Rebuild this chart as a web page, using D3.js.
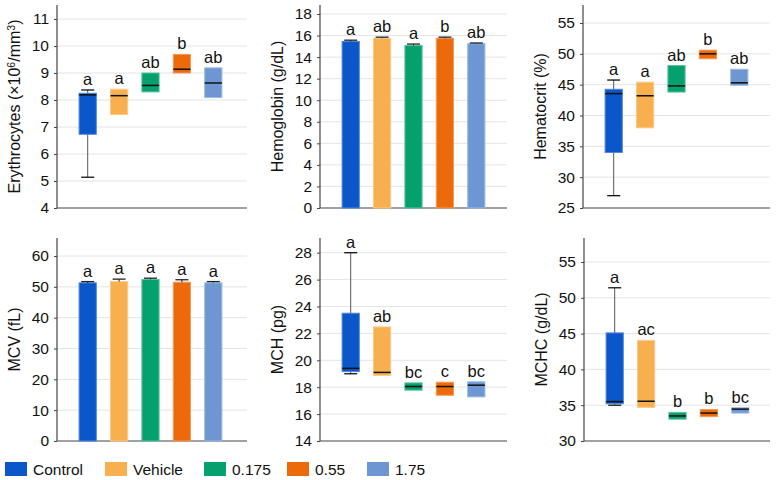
<!DOCTYPE html>
<html>
<head>
<meta charset="utf-8">
<script src="https://cdn.jsdelivr.net/npm/d3@7"></script>
<style>
  body { margin: 0; background: #fff; }
  svg text { font-family: "Liberation Sans", Arial, sans-serif; fill: #111; }
</style>
</head>
<body>
<svg id="chart" width="777" height="480"></svg>
<script>
var groups = ["Control", "Vehicle", "0.175", "0.55", "1.75"];
var colors = ["#0b57c9", "#f8b04e", "#04a06e", "#ed6a0b", "#6c97d2"];
var edges  = ["#4f86da", "#fbc98a", "#5cc39c", "#f39a5c", "#9bbbe3"];

// Erythrocytes (box)
var eryQ1  = [6.73, 7.46, 8.30, 9.00, 8.09];
var eryMed = [8.19, 8.16, 8.54, 9.14, 8.63];
var eryQ3  = [8.25, 8.40, 9.00, 9.69, 9.19];
var eryLo  = [5.14, null, null, null, null];
var eryHi  = [8.37, null, null, null, null];
var eryLetters = ["a", "a", "ab", "b", "ab"];
var eryTicks = [4, 5, 6, 7, 8, 9, 10, 11];

// Hemoglobin (bars)
var hbMean = [15.45, 15.75, 15.08, 15.75, 15.25];
var hbErr  = [0.12, 0.1, 0.13, 0.1, 0.06];
var hbLetters = ["a", "ab", "a", "b", "ab"];
var hbTicks = [0, 2, 4, 6, 8, 10, 12, 14, 16, 18];

// Hematocrit (box)
var hctQ1  = [34.0, 38.0, 43.8, 49.2, 44.9];
var hctMed = [43.55, 43.2, 44.8, 50.0, 45.3];
var hctQ3  = [44.25, 45.4, 48.1, 50.6, 47.5];
var hctLo  = [27.0, null, null, null, null];
var hctHi  = [45.75, null, null, null, null];
var hctLetters = ["a", "a", "ab", "b", "ab"];
var hctTicks = [25, 30, 35, 40, 45, 50, 55];

// MCV (bars)
var mcvMean = [51.3, 51.7, 52.4, 51.5, 51.3];
var mcvErr  = [0.4, 0.8, 0.4, 0.8, 0.4];
var mcvLetters = ["a", "a", "a", "a", "a"];
var mcvTicks = [0, 10, 20, 30, 40, 50, 60];

// MCH (box)
var mchQ1  = [19.16, 18.88, 17.78, 17.40, 17.28];
var mchMed = [19.40, 19.10, 18.05, 18.05, 18.15];
var mchQ3  = [23.50, 22.48, 18.32, 18.37, 18.40];
var mchLo  = [19.0, null, null, null, null];
var mchHi  = [28.0, null, null, null, null];
var mchLetters = ["a", "ab", "bc", "c", "bc"];
var mchTicks = [14, 16, 18, 20, 22, 24, 26, 28];

// MCHC (box)
var mchcQ1  = [35.2, 34.7, 33.05, 33.4, 33.9];
var mchcMed = [35.5, 35.55, 33.5, 33.9, 34.45];
var mchcQ3  = [45.1, 44.05, 34.0, 34.4, 34.65];
var mchcLo  = [35.0, null, null, null, null];
var mchcHi  = [51.4, null, null, null, null];
var mchcLetters = ["a", "ac", "b", "b", "bc"];
var mchcTicks = [30, 35, 40, 45, 50, 55];

var svg = d3.select("#chart");

function panel(opt) {
  var g = svg.append("g");
  var y = d3.scaleLinear()
    .domain([opt.ticks[0], opt.ticks[opt.ticks.length - 1]])
    .range([opt.bottom, opt.topTick]);
  var x = d3.scaleBand()
    .domain(groups)
    .range([opt.ax + 15, opt.ax + 172])
    .paddingInner(0.42)
    .paddingOuter(0.21);

  // grid
  g.selectAll(".grid").data(opt.ticks.slice(1)).enter().append("line")
    .attr("x1", opt.ax).attr("x2", opt.right)
    .attr("y1", function(d) { return y(d); })
    .attr("y2", function(d) { return y(d); })
    .attr("stroke", "#e4e4e4").attr("stroke-width", 1);

  // y axis
  var yAxis = d3.axisLeft(y).tickValues(opt.ticks).tickFormat(d3.format("d"))
    .tickSize(3).tickSizeOuter(0).tickPadding(5);
  var ag = g.append("g").attr("transform", "translate(" + opt.ax + ",0)").call(yAxis);
  ag.select(".domain").remove();
  ag.selectAll("line").attr("stroke", "#444");
  ag.selectAll("text").attr("font-size", 15.5).attr("fill", "#111")
    .attr("font-family", "Liberation Sans, Arial, sans-serif");
  g.append("line").attr("x1", opt.ax).attr("x2", opt.ax)
    .attr("y1", opt.top).attr("y2", opt.bottom)
    .attr("stroke", "#444").attr("stroke-width", 1.2);
  g.append("line").attr("x1", opt.ax).attr("x2", opt.right)
    .attr("y1", opt.bottom).attr("y2", opt.bottom)
    .attr("stroke", "#444").attr("stroke-width", 1.2);

  // axis title
  var t = g.append("text")
    .attr("transform", "translate(" + (opt.ax - 37) + "," + ((opt.top + opt.bottom) / 2) + ") rotate(-90)")
    .attr("text-anchor", "middle").attr("font-size", 16);
  opt.title.forEach(function(p) {
    var s = t.append("tspan").text(p[0]);
    if (p[1]) s.attr("font-size", 10.5).attr("dy", -5.5);
    else if (p[2]) s.attr("dy", 5.5);
  });

  var bw = x.bandwidth();
  var tops = [];
  if (opt.mean) {
    groups.forEach(function(k, i) {
      var cx = x(k) + bw / 2;
      g.append("rect").attr("x", x(k) + 0.5).attr("width", bw - 1)
        .attr("y", y(opt.mean[i])).attr("height", opt.bottom - y(opt.mean[i]))
        .attr("fill", colors[i]).attr("stroke", edges[i]).attr("stroke-width", 1);
      var hi = opt.mean[i] + opt.err[i];
      g.append("line").attr("x1", cx).attr("x2", cx)
        .attr("y1", y(opt.mean[i])).attr("y2", y(hi)).attr("stroke", "#222");
      g.append("line").attr("x1", cx - 6.5).attr("x2", cx + 6.5)
        .attr("y1", y(hi)).attr("y2", y(hi)).attr("stroke", "#222").attr("stroke-width", 1.3);
      tops.push(y(hi));
    });
  } else {
    groups.forEach(function(k, i) {
      var cx = x(k) + bw / 2;
      var top = y(opt.q3[i]);
      if (opt.hi[i] != null) {
        g.append("line").attr("x1", cx).attr("x2", cx)
          .attr("y1", y(opt.hi[i])).attr("y2", y(opt.lo[i])).attr("stroke", "#555");
        [opt.hi[i], opt.lo[i]].forEach(function(v) {
          g.append("line").attr("x1", cx - 6.5).attr("x2", cx + 6.5)
            .attr("y1", y(v)).attr("y2", y(v)).attr("stroke", "#111").attr("stroke-width", 1.3);
        });
        top = Math.min(top, y(opt.hi[i]));
      }
      g.append("rect").attr("x", x(k) + 0.5).attr("width", bw - 1)
        .attr("y", y(opt.q3[i])).attr("height", y(opt.q1[i]) - y(opt.q3[i]))
        .attr("fill", colors[i]).attr("stroke", edges[i]).attr("stroke-width", 1);
      g.append("line").attr("x1", x(k) + 0.5).attr("x2", x(k) + bw - 0.5)
        .attr("y1", y(opt.med[i])).attr("y2", y(opt.med[i]))
        .attr("stroke", "#111").attr("stroke-width", 1.5);
      tops.push(top);
    });
  }

  g.selectAll(".lbl").data(opt.letters).enter().append("text")
    .attr("x", function(d, i) { return x(groups[i]) + bw / 2; })
    .attr("y", function(d, i) { return tops[i] - 5; })
    .attr("text-anchor", "middle").attr("font-size", 16.5)
    .text(function(d) { return d; });
}

panel({ ax: 57, right: 247, top: 5, bottom: 208, topTick: 19, ticks: eryTicks,
  title: [["Erythrocytes (×10"], ["6", true], ["/mm", false, true], ["3", true], [")", false, true]],
  q1: eryQ1, med: eryMed, q3: eryQ3, lo: eryLo, hi: eryHi, letters: eryLetters });
panel({ ax: 320, right: 507, top: 5, bottom: 208, topTick: 14, ticks: hbTicks,
  title: [["Hemoglobin (g/dL)"]], mean: hbMean, err: hbErr, letters: hbLetters });
panel({ ax: 583, right: 770, top: 5, bottom: 208, topTick: 23, ticks: hctTicks,
  title: [["Hematocrit (%)"]], q1: hctQ1, med: hctMed, q3: hctQ3, lo: hctLo, hi: hctHi, letters: hctLetters });
panel({ ax: 57, right: 247, top: 238, bottom: 441, topTick: 256, ticks: mcvTicks,
  title: [["MCV (fL)"]], mean: mcvMean, err: mcvErr, letters: mcvLetters });
panel({ ax: 320, right: 507, top: 238, bottom: 441, topTick: 252.7, ticks: mchTicks,
  title: [["MCH (pg)"]], q1: mchQ1, med: mchMed, q3: mchQ3, lo: mchLo, hi: mchHi, letters: mchLetters });
panel({ ax: 584, right: 770, top: 238, bottom: 441, topTick: 262, ticks: mchcTicks,
  title: [["MCHC (g/dL)"]], q1: mchcQ1, med: mchcMed, q3: mchcQ3, lo: mchcLo, hi: mchcHi, letters: mchcLetters });

// legend
var legX = [5, 105, 204, 287, 367];
var leg = svg.append("g").selectAll("g").data(groups).enter().append("g")
  .attr("transform", function(d, i) { return "translate(" + legX[i] + ",462)"; });
leg.append("rect").attr("width", 22).attr("height", 14)
  .attr("fill", function(d, i) { return colors[i]; });
leg.append("text").attr("x", 28).attr("y", 13).attr("font-size", 15.5)
  .text(function(d) { return d; });
</script>
</body>
</html>
